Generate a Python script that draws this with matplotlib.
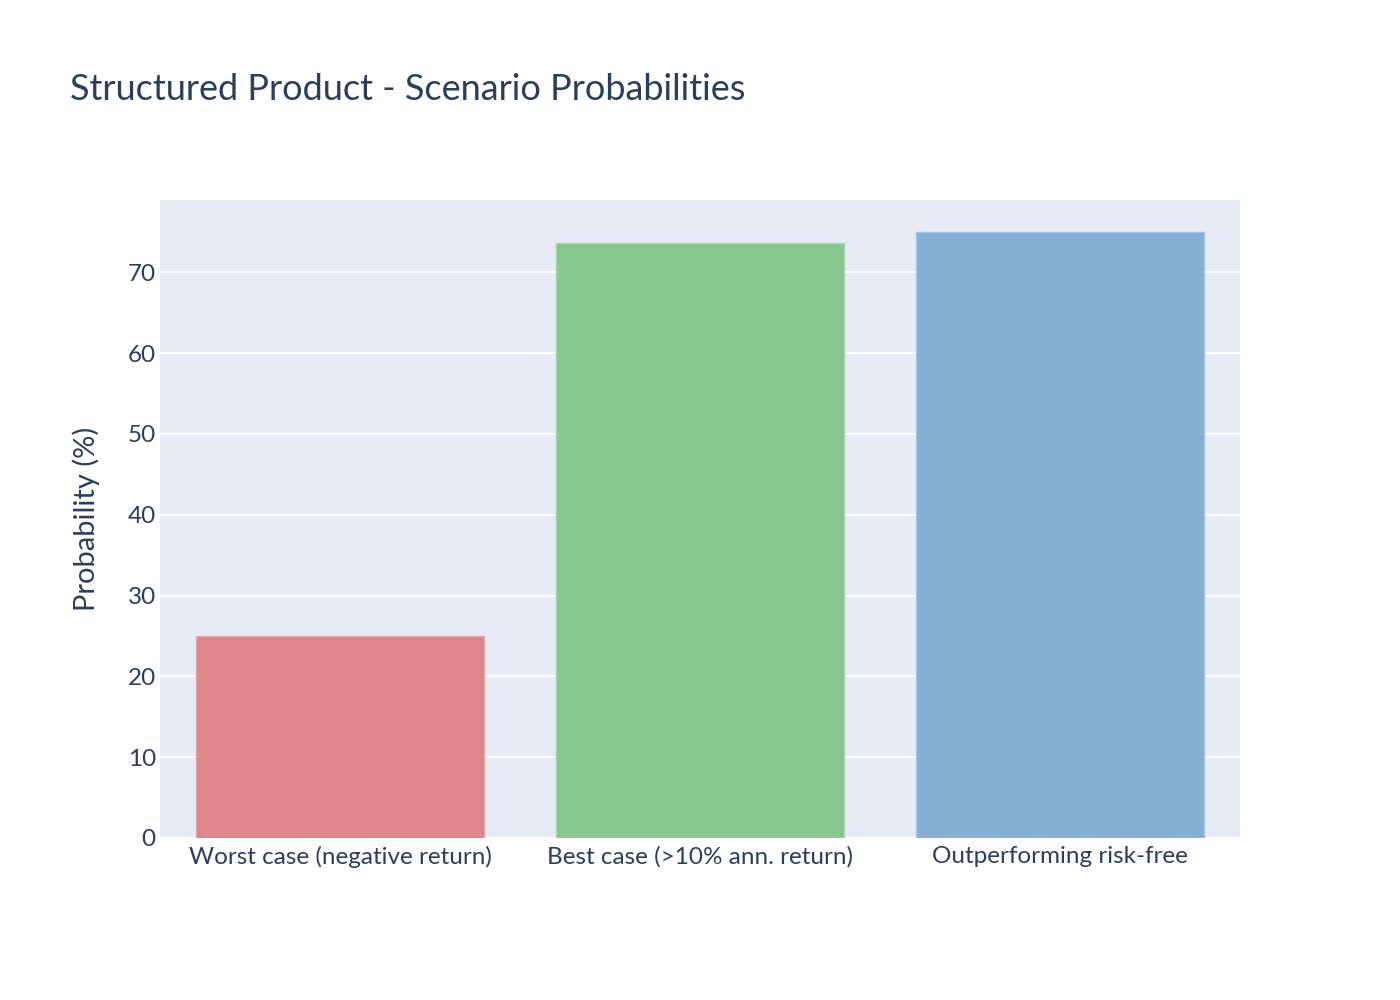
import matplotlib
matplotlib.use("Agg")
import matplotlib.pyplot as plt

# scenario data
categories = ["Worst case (negative return)", "Best case (>10% ann. return)", "Outperforming risk-free"]
probabilities = [25.0, 73.6, 75.0]
bar_colors = ["#de878b", "#88c68f", "#84b0d4"]
edge_colors = ["#e8a5a8", "#a6d6ab", "#a6c8e4"]

plt.rcParams["font.family"] = ["Lato", "DejaVu Sans"]
text_color = "#2a3f5f"

fig = plt.figure(figsize=(14, 10), dpi=100)
ax = fig.add_axes([160 / 1400, 162 / 1000, 1080 / 1400, 638 / 1000])
ax.set_facecolor("#e5ecf6")

x = range(len(categories))
ax.bar(x, probabilities, width=0.8, color=bar_colors, edgecolor=edge_colors, linewidth=1, zorder=3)

ax.set_xlim(-0.5, 2.5)
ax.set_ylim(0, max(probabilities) * 1.0526)
ax.set_yticks(range(0, 80, 10))
ax.set_xticks(list(x))
ax.set_xticklabels(categories)
ax.grid(axis="y", color="white", linewidth=1.3, zorder=1)
ax.set_axisbelow(True)
for s in ax.spines.values():
    s.set_visible(False)
ax.tick_params(axis="both", length=0, labelsize=17.5, colors=text_color)
ax.tick_params(axis="x", pad=6)
ax.tick_params(axis="y", pad=3)

ax.set_ylabel("Probability (%)", fontsize=21, color=text_color, labelpad=20)
fig.text(70 / 1400, 1 - 90 / 1000, "Structured Product - Scenario Probabilities",
         fontsize=26, color=text_color, va="center", ha="left")

fig.savefig("out.png", dpi=100)
